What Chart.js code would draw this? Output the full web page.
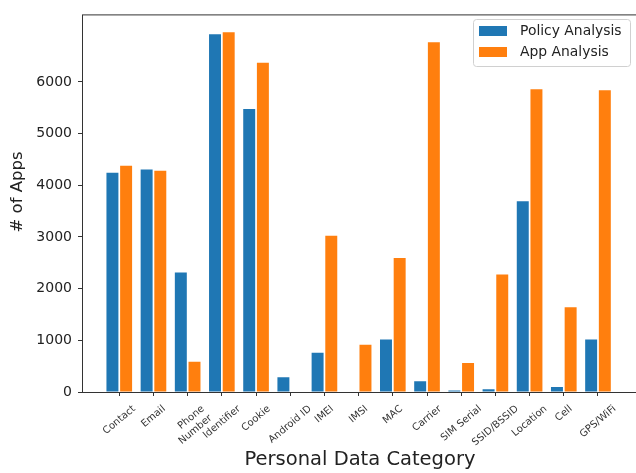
<!DOCTYPE html>
<html>
<head>
<meta charset="utf-8">
<script src="https://cdn.jsdelivr.net/npm/chart.js@4/dist/chart.umd.min.js"></script>
<style>
    html, body { margin: 0; padding: 0; background: #fff; overflow: hidden; }
    #wrap { position: absolute; left: 0; top: 0; width: 645px; height: 473px; }
</style>
</head>
<body>
<div id="wrap"><canvas id="chart01" width="645" height="473"></canvas></div>
<script>
const categories = [
    'Contact', 'Email', ['Phone', 'Number'], 'Identifier', 'Cookie', 'Android ID', 'IMEI',
    'IMSI', 'MAC', 'Carrier', 'SIM Serial', 'SSID/BSSID', 'Location', 'Cell', 'GPS/WiFi',
];
const policyCounts = [4240, 4305, 2310, 6920, 5475, 285, 760, 0, 1015, 210, 30, 55, 3690, 95, 1015];
const appCounts = [4380, 4280, 585, 6960, 6370, 0, 3025, 915, 2595, 6765, 560, 2275, 5860, 1640, 5840];
const yTicks = [0, 1000, 2000, 3000, 4000, 5000, 6000];
const seriesNames = ['Policy Analysis', 'App Analysis'];
const seriesColors = ['#1f77b4', '#ff7f0e'];
const yTitle = '# of Apps';
const xTitle = 'Personal Data Category';

const FONT = 'DejaVu Sans';
const X_MIN = -1.09;
const X_MAX = 15.17;
const Y_MAX = 7306;
const LABEL_ANGLE = 40;
const LABEL_SIZE = 10;

// matplotlib centres a rotated label on its tick, Chart.js hangs it off its end,
// so move each label anchor right by about half of its rotated width
const measureCtx = document.createElement('canvas').getContext('2d');
measureCtx.font = `${LABEL_SIZE}px ${FONT}`;
const unitPx = (638 - 82) / (X_MAX - X_MIN);
const labelShift = categories.map((label) => {
    const lines = [].concat(label);
    const w = Math.max(...lines.map((s) => measureCtx.measureText(s).width));
    return (w * Math.cos(LABEL_ANGLE * Math.PI / 180) / 2) / unitPx;
});

// frame on all four sides, y title, legend box in the top right corner
const frameAndLegend = {
    id: 'frameAndLegend',
    afterDraw(chart) {
        const { ctx, chartArea: a } = chart;
        ctx.save();
        ctx.strokeStyle = '#333';
        ctx.lineWidth = 1;
        ctx.strokeRect(a.left + 0.5, a.top + 0.5, a.right - a.left, a.bottom - a.top);

        ctx.save();
        ctx.translate(17.5, 192);
        ctx.rotate(-Math.PI / 2);
        ctx.fillStyle = '#222';
        ctx.font = `16.5px ${FONT}`;
        ctx.textAlign = 'center';
        ctx.textBaseline = 'middle';
        ctx.fillText(yTitle, 0, 0);
        ctx.restore();

        ctx.fillStyle = 'rgba(255,255,255,0.8)';
        ctx.strokeStyle = '#d0d0d0';
        ctx.beginPath();
        ctx.roundRect(473.5, 19.5, 157, 47, 3);
        ctx.fill();
        ctx.stroke();

        ctx.font = `13.9px ${FONT}`;
        ctx.textBaseline = 'middle';
        chart.data.datasets.forEach((ds, i) => {
            const y = 31 + i * 21;
            ctx.fillStyle = ds.backgroundColor;
            ctx.fillRect(479, y - 5, 28, 10);
            ctx.fillStyle = '#222';
            ctx.fillText(ds.label, 520, y);
        });
        ctx.restore();
    },
};

const ctx = document.getElementById('chart01').getContext('2d');

const data = {
    datasets: [policyCounts, appCounts].map((vals, k) => ({
        label: seriesNames[k],
        data: vals.map((v, i) => ({ x: i, y: v })),
        backgroundColor: seriesColors[k],
        borderWidth: 0,
        categoryPercentage: 0.8,
        barPercentage: 0.875,
    })),
};

const config = {
    type: 'bar',
    data,
    options: {
        responsive: false,
        animation: false,
        devicePixelRatio: 1,
        events: [],
        layout: {
            padding: { top: 12, right: 7, left: 0, bottom: 0 },
        },
        plugins: {
            legend: { display: false },
            tooltip: { enabled: false },
        },
        scales: {
            x: {
                type: 'linear',
                position: 'bottom',
                weight: 0,
                offset: false,
                min: X_MIN,
                max: X_MAX,
                afterBuildTicks(axis) {
                    axis.ticks = categories.map((c, i) => ({ value: i }));
                },
                ticks: { display: false },
                grid: {
                    offset: false,
                    drawOnChartArea: false,
                    drawTicks: true,
                    tickLength: 4,
                    color: '#333',
                },
                border: { display: false },
                afterFit(scale) {
                    scale.height = 4;
                },
            },
            xl: {
                type: 'linear',
                position: 'bottom',
                weight: 1,
                offset: false,
                min: X_MIN,
                max: X_MAX,
                afterBuildTicks(axis) {
                    axis.ticks = categories.map((c, i) => ({ value: i + labelShift[i] }));
                },
                ticks: {
                    autoSkip: false,
                    minRotation: LABEL_ANGLE,
                    maxRotation: LABEL_ANGLE,
                    padding: 7,
                    color: '#333',
                    font: { family: FONT, size: LABEL_SIZE },
                    callback(value, index) {
                        return categories[index];
                    },
                },
                grid: { display: false, drawTicks: false, offset: false },
                border: { display: false },
                title: {
                    display: true,
                    text: xTitle,
                    color: '#222',
                    font: { family: FONT, size: 19.5 },
                    padding: { top: 0, bottom: 1 },
                },
                afterFit(scale) {
                    scale.height = 77;
                },
            },
            y: {
                type: 'linear',
                min: 0,
                max: Y_MAX,
                afterBuildTicks(axis) {
                    axis.ticks = yTicks.map((v) => ({ value: v }));
                },
                ticks: {
                    padding: 6,
                    color: '#222',
                    font: { family: FONT, size: 14 },
                    callback(value) {
                        return String(value);
                    },
                },
                grid: {
                    drawOnChartArea: false,
                    tickLength: 4,
                    color: '#333',
                },
                border: { display: false },
                afterFit(scale) {
                    scale.width = 82;
                },
            },
        },
    },
    plugins: [frameAndLegend],
};

const chart = new Chart(ctx, config);
</script>
</body>
</html>
